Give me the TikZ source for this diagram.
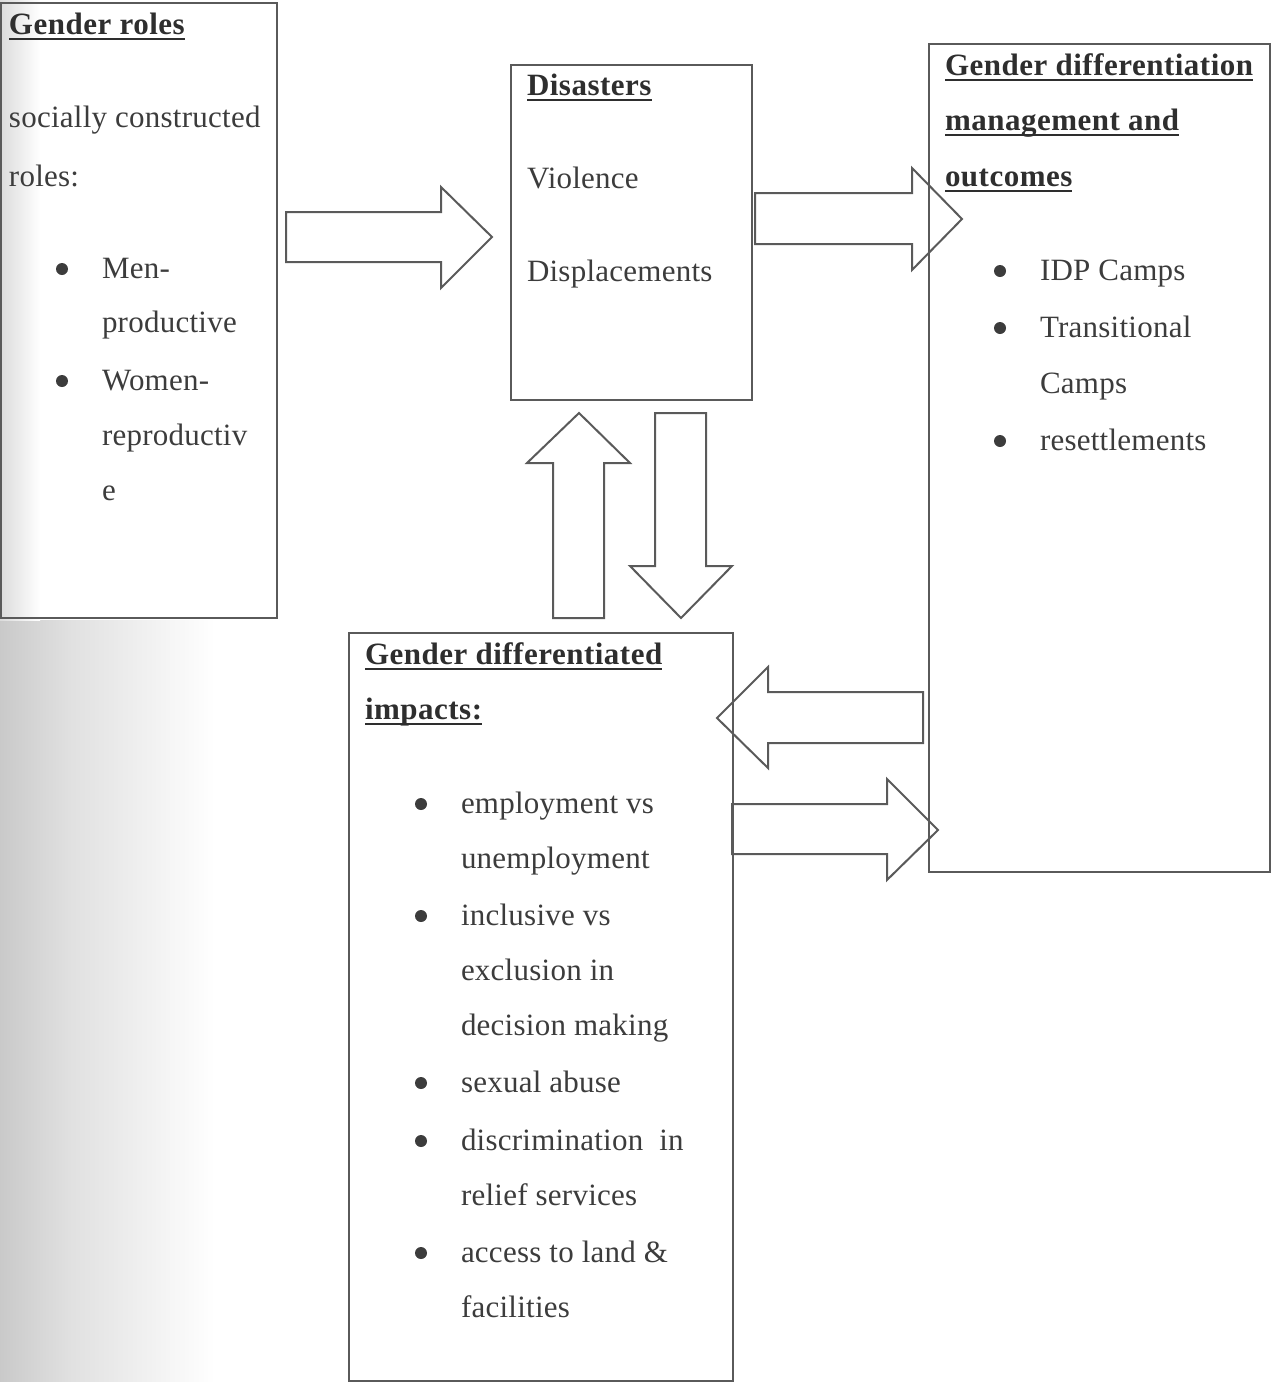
\documentclass[tikz,border=0pt]{standalone}
\usepackage{fontspec}
\setmainfont[LetterSpace=0.8,BoldFeatures={LetterSpace=1.6}]{Liberation Serif}
\definecolor{ink}{HTML}{3C3C3C}
\definecolor{hink}{HTML}{2E2E2E}
\definecolor{edge}{HTML}{5A5A5A}
\tikzset{
  boxnode/.style={draw=edge, line width=1.4pt, anchor=north west, inner sep=0, outer sep=0},
  txt/.style={anchor=base west, inner sep=0, outer sep=0, text=ink, font=\fontsize{31}{56}\selectfont},
  head/.style={txt, text=hink, font=\fontsize{31}{56}\selectfont\bfseries},
  ulin/.style={draw=hink, line width=2.4pt},
  bul/.style={circle, fill=ink, inner sep=0, outer sep=0, minimum size=12pt},
  blockarrow/.style={draw=edge, line width=2pt, line join=miter},
}
\begin{document}
\begin{tikzpicture}[x=1pt,y=-1pt]
\useasboundingbox (0,0) rectangle (1272,1382);
% scan shading on the left
\shade[left color=black!21, right color=black!12, draw=none] (0,620) rectangle (70,1382);
\shade[left color=black!12, right color=white, draw=none] (70,620) rectangle (215,1382);
\shade[left color=black!14, right color=white, draw=none] (0,0) rectangle (40,620);

% boxes
\node[boxnode, minimum width=276pt, minimum height=615pt] (b1) at (1,3) {};
\node[boxnode, minimum width=241pt, minimum height=335pt] (b2) at (511,65) {};
\node[boxnode, minimum width=341pt, minimum height=828pt] (b3) at (929,44) {};
\node[boxnode, minimum width=384pt, minimum height=748pt] (b4) at (349,633) {};

% box 1 text
\node[head] (h1) at (9,34) {Gender roles};
\draw[ulin] ([yshift=-5pt]h1.base west) -- ([yshift=-5pt]h1.base east);
\node[txt] (t1a) at (9,127) {socially constructed};
\node[txt] (t1b) at (9,186) {roles:};
\node[bul] (u1a) at (62,269) {};
\node[txt] (t1c) at (102,278) {Men-};
\node[txt] (t1d) at (102,332) {productive};
\node[bul] (u1b) at (62,381) {};
\node[txt] (t1e) at (102,390) {Women-};
\node[txt] (t1f) at (102,445) {reproductiv};
\node[txt] (t1g) at (102,500) {e};

% box 2 text
\node[head] (h2) at (527,95) {Disasters};
\draw[ulin] ([yshift=-5pt]h2.base west) -- ([yshift=-5pt]h2.base east);
\node[txt] (t2a) at (527,188) {Violence};
\node[txt] (t2b) at (527,281) {Displacements};

% box 3 text
\node[head] (h3a) at (945,75) {Gender differentiation};
\draw[ulin] ([yshift=-5pt]h3a.base west) -- ([yshift=-5pt]h3a.base east);
\node[head] (h3b) at (945,130) {management and};
\draw[ulin] ([yshift=-5pt]h3b.base west) -- ([yshift=-5pt]h3b.base east);
\node[head] (h3c) at (945,186) {outcomes};
\draw[ulin] ([yshift=-5pt]h3c.base west) -- ([yshift=-5pt]h3c.base east);
\node[bul] (u3a) at (1000,271) {};
\node[txt] (t3a) at (1040,280) {IDP Camps};
\node[bul] (u3b) at (1000,328) {};
\node[txt] (t3b) at (1040,337) {Transitional};
\node[txt] (t3c) at (1040,393) {Camps};
\node[bul] (u3c) at (1000,441) {};
\node[txt] (t3d) at (1040,450) {resettlements};

% box 4 text
\node[head] (h4a) at (365,664) {Gender differentiated};
\draw[ulin] ([yshift=-5pt]h4a.base west) -- ([yshift=-5pt]h4a.base east);
\node[head] (h4b) at (365,719) {impacts:};
\draw[ulin] ([yshift=-5pt]h4b.base west) -- ([yshift=-5pt]h4b.base east);
\node[bul] (u4a) at (421,804) {};
\node[txt] (t4a) at (461,813) {employment vs};
\node[txt] (t4b) at (461,868) {unemployment};
\node[bul] (u4b) at (421,916) {};
\node[txt] (t4c) at (461,925) {inclusive vs};
\node[txt] (t4d) at (461,980) {exclusion in};
\node[txt] (t4e) at (461,1035) {decision making};
\node[bul] (u4c) at (421,1083) {};
\node[txt] (t4f) at (461,1092) {sexual abuse};
\node[bul] (u4d) at (421,1141) {};
\node[txt] (t4g) at (461,1150) {discrimination\ \ in};
\node[txt] (t4h) at (461,1205) {relief services};
\node[bul] (u4e) at (421,1253) {};
\node[txt] (t4i) at (461,1262) {access to land \&};
\node[txt] (t4j) at (461,1317) {facilities};

% block arrows
% b1 -> b2
\draw[blockarrow] (286,212) -- (441,212) -- (441,187) -- (492,237) -- (441,288) -- (441,262) -- (286,262) -- cycle;
% b2 -> b3
\draw[blockarrow] (755,193) -- (912,193) -- (912,168) -- (962,219) -- (912,270) -- (912,244) -- (755,244) -- cycle;
% b4 -> b2 (up)
\draw[blockarrow] (553,618) -- (553,463) -- (527,463) -- (579,413) -- (630,463) -- (604,463) -- (604,618) -- cycle;
% b2 -> b4 (down)
\draw[blockarrow] (655,413) -- (706,413) -- (706,566) -- (732,566) -- (681,618) -- (630,566) -- (655,566) -- cycle;
% b3 -> b4 (left)
\draw[blockarrow] (923,692) -- (768,692) -- (768,667) -- (717,718) -- (768,768) -- (768,743) -- (923,743) -- cycle;
% b4 -> b3 (right)
\draw[blockarrow] (732,804) -- (887,804) -- (887,779) -- (938,830) -- (887,880) -- (887,854) -- (732,854) -- cycle;
\end{tikzpicture}
\end{document}
